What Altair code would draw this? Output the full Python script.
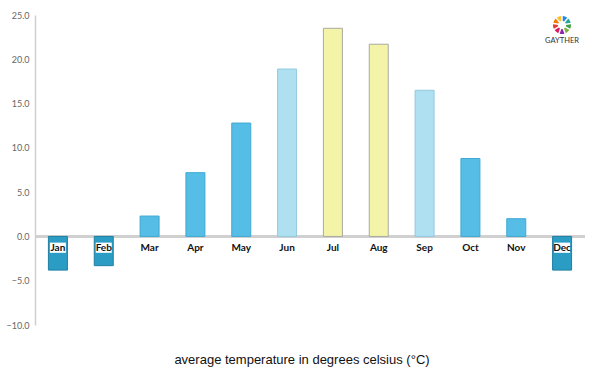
import altair as alt
import pandas as pd

months = ["Jan", "Feb", "Mar", "Apr", "May", "Jun", "Jul", "Aug", "Sep", "Oct", "Nov", "Dec"]
temps = [-3.8, -3.3, 2.3, 7.2, 12.8, 18.9, 23.5, 21.7, 16.5, 8.8, 2.0, -3.8]
groups = ["cold", "cold", "mild", "mild", "mild", "warm", "hot", "hot", "warm", "mild", "mild", "cold"]

group_names = ["cold", "mild", "warm", "hot"]
fills = ["#2b9dc5", "#56bde6", "#aee0f2", "#f4f4a8"]
strokes = ["#1f7fa3", "#3fa9d3", "#93c9de", "#a9a9a0"]

logo_colors = ["#e53935", "#f57c00", "#fbc02d", "#7cb342", "#43a047", "#26a69a", "#1e88e5", "#8e24aa", "#d81b60"]

df = pd.DataFrame({"month": months, "temp": temps, "group": groups})
df["label_y"] = -1.3
df["box_top"] = df["temp"].apply(lambda t: -0.7 if t < 0 else None)
df["box_bot"] = df["temp"].apply(lambda t: -1.85 if t < 0 else None)

xenc = alt.X("month:N", sort=months, axis=None,
             scale=alt.Scale(paddingInner=0.58, paddingOuter=0.29))
yscale = alt.Scale(domain=[-10, 25], nice=False, zero=False)

base = alt.Chart(df)

bars = base.mark_bar(strokeWidth=1, size=19).encode(
    x=xenc,
    y=alt.Y("temp:Q", scale=yscale, title=None,
            axis=alt.Axis(values=[-10, -5, 0, 5, 10, 15, 20, 25], format=".1f",
                          grid=False, ticks=False, domainColor="#d0d0d0", domainWidth=1.5,
                          labelColor="#666666", labelFontSize=9, labelPadding=6,
                          labelFont="Lato")),
    y2=alt.datum(0),
    fill=alt.Fill("group:N", scale=alt.Scale(domain=group_names, range=fills), legend=None),
    stroke=alt.Stroke("group:N", scale=alt.Scale(domain=group_names, range=strokes), legend=None),
)

zero_rule = base.mark_rule(color="#d0d0d0", strokeWidth=1.5).encode(
    y=alt.Y("z:Q", scale=yscale),
).transform_calculate(z="0")

boxes = base.transform_filter("datum.temp < 0").mark_bar(fill="white", size=16).encode(
    x=xenc,
    y=alt.Y("box_top:Q", scale=yscale),
    y2="box_bot:Q",
)

labels = base.mark_text(fontSize=10, fontWeight="bold", font="Lato", color="#111111",
                        baseline="middle").encode(
    x=xenc,
    y=alt.Y("label_y:Q", scale=yscale),
    text="month:N",
)

logo_df = pd.DataFrame({"c": logo_colors, "v": [1] * len(logo_colors)})
logo_ring = alt.Chart(logo_df).mark_arc(innerRadius=4, outerRadius=9, padAngle=0.15).encode(
    theta=alt.Theta("v:Q", stack=True),
    color=alt.Color("c:N", scale=None, legend=None),
    x=alt.value(527),
    y=alt.value(10),
)
logo_text = alt.Chart(pd.DataFrame({"t": ["GAYTHER"]})).mark_text(
    fontSize=7.5, font="Lato", color="#333333").encode(
    text="t:N", x=alt.value(527), y=alt.value(26))

chart = alt.layer(zero_rule, bars, boxes, labels, logo_ring, logo_text).resolve_scale(
    color="independent", theta="independent"
).properties(
    width=550, height=310,
    padding={"left": 35, "top": 15, "right": 15, "bottom": 50},
    autosize=alt.AutoSizeParams(type="none"),
    title=alt.TitleParams("average temperature in degrees celsius (°C)", orient="bottom",
                          font="Liberation Sans", fontSize=13, fontWeight="normal",
                          color="#111111", offset=24, dx=-8),
).configure_view(stroke=None)

chart.save("out.html", embed_options={"renderer": "svg", "actions": False})
